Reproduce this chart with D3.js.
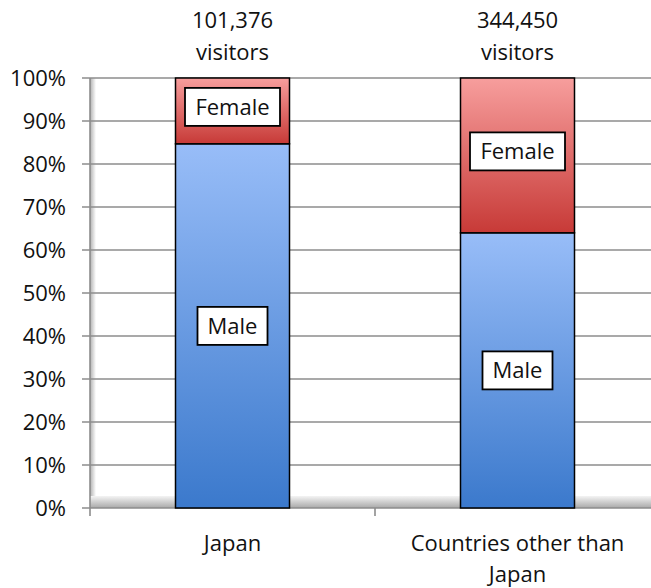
<!DOCTYPE html>
<html>
<head>
<meta charset="utf-8">
<script src="https://cdn.jsdelivr.net/npm/d3@7"></script>
<style>
  body { margin: 0; background: #fff; }
  text { font-family: "Open Sans", Lato, sans-serif; fill: #111; }
</style>
</head>
<body>
<script>
// data
var categories = ["Japan", "Countries other than Japan"];
var visitors = ["101,376", "344,450"];
var malePct = [84.7, 64.0];
var femalePct = [15.3, 36.0];
var yTicks = [0, 10, 20, 30, 40, 50, 60, 70, 80, 90, 100];

var W = 651, H = 588;
var x0 = 90, x1 = 660, yTop = 78, yBot = 508;
var fs = 22;

var svg = d3.select("body").append("svg").attr("width", W).attr("height", H);

var defs = svg.append("defs");
var gm = defs.append("linearGradient").attr("id", "gMale").attr("x1", 0).attr("y1", 0).attr("x2", 0).attr("y2", 1);
gm.append("stop").attr("offset", "0%").attr("stop-color", "#98bdf8");
gm.append("stop").attr("offset", "100%").attr("stop-color", "#3b79cc");
var gf = defs.append("linearGradient").attr("id", "gFemale").attr("x1", 0).attr("y1", 0).attr("x2", 0).attr("y2", 1);
gf.append("stop").attr("offset", "0%").attr("stop-color", "#f79e9d");
gf.append("stop").attr("offset", "100%").attr("stop-color", "#c73a37");
var gfl = defs.append("linearGradient").attr("id", "gFloor").attr("x1", 0).attr("y1", 0).attr("x2", 0).attr("y2", 1);
gfl.append("stop").attr("offset", "0%").attr("stop-color", "#f4f4f4");
gfl.append("stop").attr("offset", "100%").attr("stop-color", "#a8a8a8");
var gw = defs.append("linearGradient").attr("id", "gWall").attr("x1", 0).attr("y1", 0).attr("x2", 1).attr("y2", 0);
gw.append("stop").attr("offset", "0%").attr("stop-color", "#b0b0b0");
gw.append("stop").attr("offset", "100%").attr("stop-color", "#ffffff");

var x = d3.scaleBand().domain(categories).range([x0, x1]).paddingInner(0).paddingOuter(0);
var y = d3.scaleLinear().domain([0, 100]).range([yBot, yTop]);
var barW = 114;

// 3d wall and floor
svg.append("rect").attr("x", x0).attr("y", yTop).attr("width", 6).attr("height", yBot - yTop - 12)
  .attr("fill", "url(#gWall)");
svg.append("rect").attr("x", x0).attr("y", yBot - 12).attr("width", W - x0).attr("height", 12)
  .attr("fill", "url(#gFloor)");

// gridlines
svg.selectAll("line.grid").data(yTicks).enter().append("line")
  .attr("class", "grid")
  .attr("x1", x0 - 8).attr("x2", W)
  .attr("y1", function(d) { return y(d); }).attr("y2", function(d) { return y(d); })
  .attr("stroke", "#8c8c8c").attr("stroke-width", 1.6);

// axes lines
svg.append("line").attr("x1", x0).attr("x2", x0).attr("y1", yTop).attr("y2", yBot + 8)
  .attr("stroke", "#8c8c8c").attr("stroke-width", 1.6);
svg.append("line").attr("x1", x0 + x.bandwidth()).attr("x2", x0 + x.bandwidth()).attr("y1", yBot).attr("y2", yBot + 8)
  .attr("stroke", "#8c8c8c").attr("stroke-width", 1.6);

// y tick labels
svg.selectAll("text.ytick").data(yTicks).enter().append("text")
  .attr("class", "ytick")
  .attr("x", 66).attr("y", function(d) { return y(d); })
  .attr("dy", "0.36em").attr("text-anchor", "end")
  .attr("font-size", fs)
  .text(function(d) { return d + "%"; });

// bars
var g = svg.selectAll("g.bar").data(categories).enter().append("g").attr("class", "bar")
  .attr("transform", function(d) { return "translate(" + (x(d) + x.bandwidth() / 2 - barW / 2) + ",0)"; });

g.append("rect")
  .attr("y", function(d, i) { return y(malePct[i]); })
  .attr("height", function(d, i) { return yBot - y(malePct[i]); })
  .attr("width", barW).attr("fill", "url(#gMale)")
  .attr("stroke", "#000").attr("stroke-width", 1.5);
g.append("rect")
  .attr("y", function(d, i) { return y(malePct[i] + femalePct[i]); })
  .attr("height", function(d, i) { return y(malePct[i]) - y(malePct[i] + femalePct[i]); })
  .attr("width", barW).attr("fill", "url(#gFemale)")
  .attr("stroke", "#000").attr("stroke-width", 1.5);

// segment labels
function segLabel(sel, txt, yc, bw) {
  sel.append("rect").attr("x", barW / 2 - bw / 2).attr("y", function(d, i) { return yc(i) - 19; })
    .attr("width", bw).attr("height", 38).attr("fill", "#fff").attr("stroke", "#000").attr("stroke-width", 1.8);
  sel.append("text").attr("x", barW / 2).attr("y", function(d, i) { return yc(i); })
    .attr("dy", "0.36em").attr("text-anchor", "middle").attr("font-size", fs).text(txt);
}
segLabel(g, "Female", function(i) { return y(malePct[i] + femalePct[i] / 2) - 4; }, 95);
segLabel(g, "Male", function(i) { return y(malePct[i] / 2); }, 70);

// totals above bars
g.append("text").attr("x", barW / 2).attr("y", 28).attr("text-anchor", "middle").attr("font-size", fs)
  .text(function(d, i) { return visitors[i]; });
g.append("text").attr("x", barW / 2).attr("y", 60).attr("text-anchor", "middle").attr("font-size", fs)
  .text("visitors");

// category labels
var lines = [["Japan"], ["Countries other than", "Japan"]];
svg.selectAll("text.cat").data(categories).enter().append("text")
  .attr("class", "cat").attr("text-anchor", "middle").attr("font-size", fs)
  .attr("transform", function(d) { return "translate(" + (x(d) + x.bandwidth() / 2) + ",551)"; })
  .selectAll("tspan").data(function(d, i) { return lines[i]; }).enter().append("tspan")
  .attr("x", 0).attr("dy", function(d, j) { return j ? 31 : 0; })
  .text(function(d) { return d; });
</script>
</body>
</html>
